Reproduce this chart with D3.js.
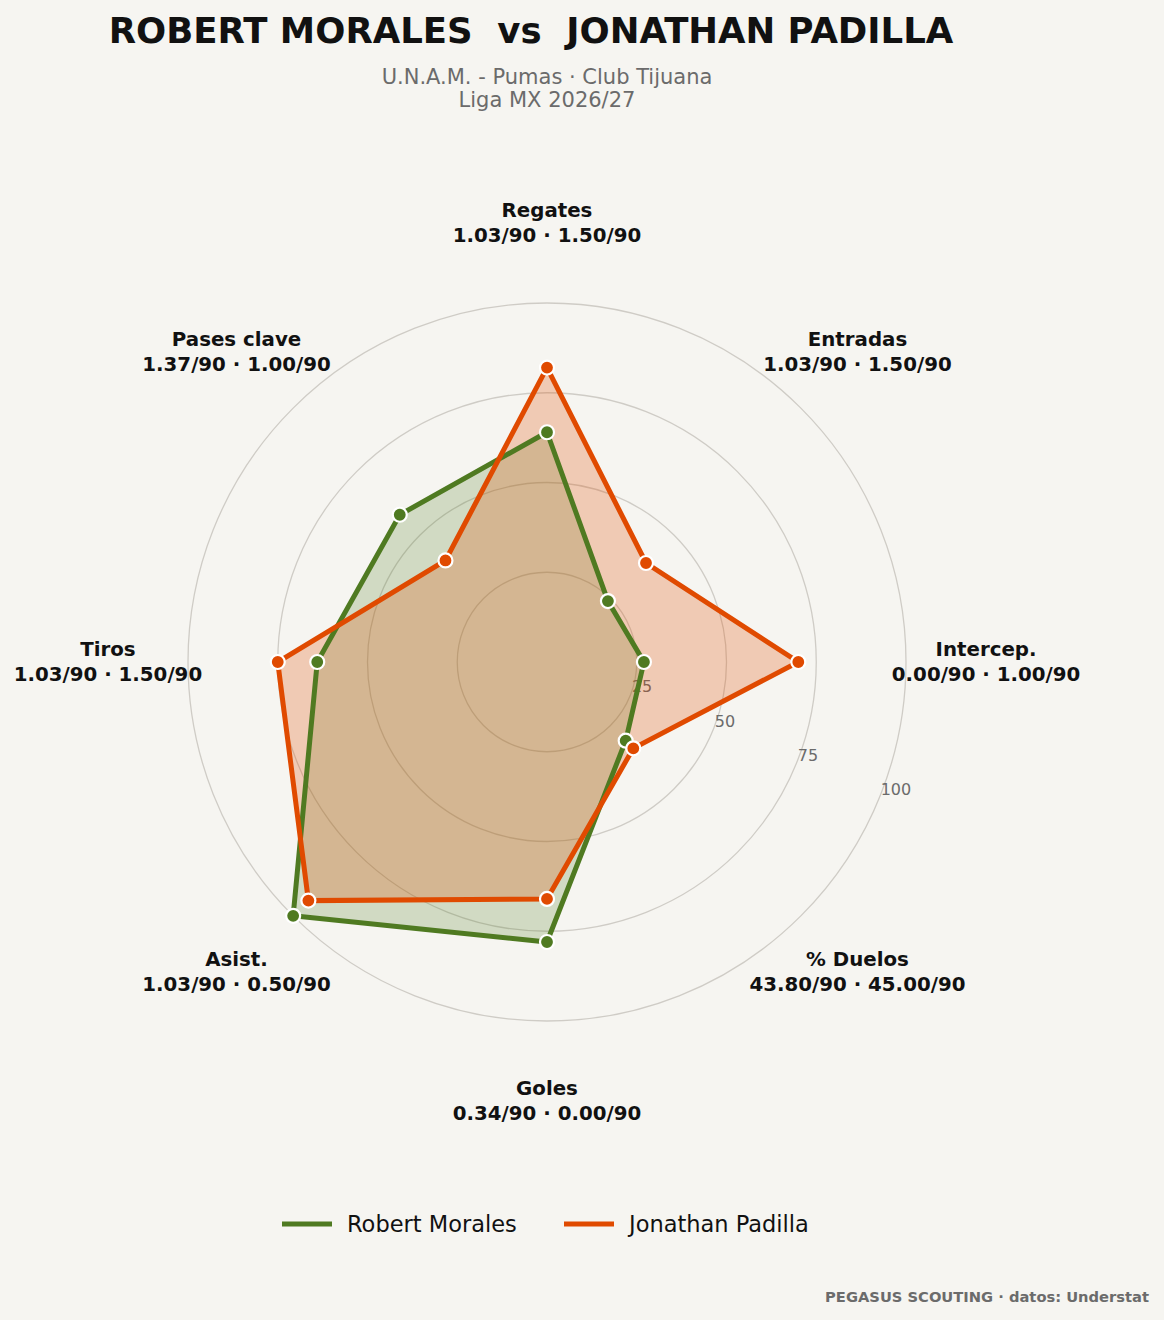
<!DOCTYPE html>
<html>
<head>
<meta charset="utf-8">
<script src="https://cdn.jsdelivr.net/npm/d3@7"></script>
<style>
  body { margin: 0; background: #f6f5f1; }
  text { font-family: "DejaVu Sans", sans-serif; }
</style>
</head>
<body>
<div id="chart"></div>
<script>
// axis labels, clockwise from the top
var axes = ["Regates", "Entradas", "Intercep.", "% Duelos", "Goles", "Asist.", "Tiros", "Pases clave"];
var axisValues = [
  "1.03/90 · 1.50/90",
  "1.03/90 · 1.50/90",
  "0.00/90 · 1.00/90",
  "43.80/90 · 45.00/90",
  "0.34/90 · 0.00/90",
  "1.03/90 · 0.50/90",
  "1.03/90 · 1.50/90",
  "1.37/90 · 1.00/90"
];
// percentile scores (0-100)
var morales = [64, 24, 27, 31, 78, 100, 64, 58];
var padilla = [82, 39, 70, 34, 66, 94, 75, 40];
var ticks = [25, 50, 75, 100];

var players = [
  {name: "Robert Morales", values: morales, color: "#4f7a21", fill: "rgba(79,122,33,0.22)"},
  {name: "Jonathan Padilla", values: padilla, color: "#e04a00", fill: "rgba(224,74,0,0.25)"}
];

var width = 1164, height = 1320,
    cx = 547, cy = 662,
    radius = 359;

var svg = d3.select("#chart").append("svg")
    .attr("width", width)
    .attr("height", height)
    .style("background", "#f6f5f1");

var r = d3.scaleLinear().domain([0, 100]).range([0, radius]);
var angle = d3.scaleLinear().domain([0, axes.length]).range([0, 2 * Math.PI]);

function px(i, v) { return cx + r(v) * Math.sin(angle(i)); }
function py(i, v) { return cy - r(v) * Math.cos(angle(i)); }

// title
svg.append("text")
    .attr("x", 531).attr("y", 43)
    .attr("text-anchor", "middle")
    .style("white-space", "pre")
    .style("font-size", "35.5px").style("font-weight", "bold")
    .style("fill", "#111")
    .text("ROBERT MORALES  vs  JONATHAN PADILLA");

svg.append("text")
    .attr("x", cx).attr("y", 84)
    .attr("text-anchor", "middle")
    .style("font-size", "21px").style("fill", "#6b6b6b")
    .text("U.N.A.M. - Pumas · Club Tijuana");
svg.append("text")
    .attr("x", cx).attr("y", 107)
    .attr("text-anchor", "middle")
    .style("font-size", "21px").style("fill", "#6b6b6b")
    .text("Liga MX 2026/27");

var g = svg.append("g");

// grid circles
g.selectAll(".grid")
    .data(ticks)
  .enter().append("circle")
    .attr("class", "grid")
    .attr("cx", cx).attr("cy", cy)
    .attr("r", function(d) { return r(d); })
    .style("fill", "none")
    .style("stroke", "#cfccc6")
    .style("stroke-width", 1.3);

// radial tick labels at 22.5 degrees below horizontal
var tickAng = 22.5 * Math.PI / 180;
g.selectAll(".tick")
    .data(ticks)
  .enter().append("text")
    .attr("class", "tick")
    .attr("x", function(d) { return cx + r(d) * Math.cos(tickAng) + 2; })
    .attr("y", function(d) { return cy + r(d) * Math.sin(tickAng) - 4; })
    .style("font-size", "16px")
    .style("fill", "#6b6b6b")
    .text(function(d) { return d; });

// axis labels
var lab = g.selectAll(".axislabel")
    .data(axes)
  .enter().append("text")
    .attr("class", "axislabel")
    .attr("text-anchor", "middle")
    .style("font-size", "19.8px").style("font-weight", "bold")
    .style("fill", "#111");

lab.append("tspan")
    .attr("x", function(d, i) { return px(i, 122.3); })
    .attr("y", function(d, i) { return py(i, 122.3) - 6; })
    .text(function(d) { return d; });
lab.append("tspan")
    .attr("x", function(d, i) { return px(i, 122.3); })
    .attr("y", function(d, i) { return py(i, 122.3) + 19; })
    .text(function(d, i) { return axisValues[i]; });

// polygons: fills, then outlines, then markers on top
var line = d3.lineRadial()
    .angle(function(d, i) { return angle(i); })
    .radius(function(d) { return r(d); })
    .curve(d3.curveLinearClosed);

var plot = g.append("g")
    .attr("transform", "translate(" + cx + "," + cy + ")");

plot.selectAll(".area")
    .data(players)
  .enter().append("path")
    .attr("class", "area")
    .attr("d", function(d) { return line(d.values); })
    .style("fill", function(d) { return d.fill; })
    .style("stroke", "none");

plot.selectAll(".outline")
    .data(players)
  .enter().append("path")
    .attr("class", "outline")
    .attr("d", function(d) { return line(d.values); })
    .style("fill", "none")
    .style("stroke", function(d) { return d.color; })
    .style("stroke-width", 5);

plot.selectAll(".markers")
    .data(players)
  .enter().append("g")
    .attr("class", "markers")
    .each(function(p) {
      d3.select(this).selectAll("circle")
          .data(p.values)
        .enter().append("circle")
          .attr("cx", function(d, i) { return px(i, d) - cx; })
          .attr("cy", function(d, i) { return py(i, d) - cy; })
          .attr("r", 7)
          .style("fill", p.color)
          .style("stroke", "#fff")
          .style("stroke-width", 2.2);
    });

// legend
var legendX = [282, 564];
var leg = svg.selectAll(".legend")
    .data(players)
  .enter().append("g")
    .attr("class", "legend")
    .attr("transform", function(d, i) { return "translate(" + legendX[i] + ",1224)"; });
leg.append("line")
    .attr("x1", 0).attr("x2", 50)
    .style("stroke", function(d) { return d.color; })
    .style("stroke-width", 5);
leg.append("text")
    .attr("x", 65).attr("y", 8)
    .style("font-size", "22.5px")
    .style("fill", "#111")
    .text(function(d) { return d.name; });

// footer
svg.append("text")
    .attr("x", 1149).attr("y", 1302)
    .attr("text-anchor", "end")
    .style("font-size", "14.7px").style("font-weight", "bold")
    .style("fill", "#6b6b6b")
    .text("PEGASUS SCOUTING · datos: Understat");
</script>
</body>
</html>
